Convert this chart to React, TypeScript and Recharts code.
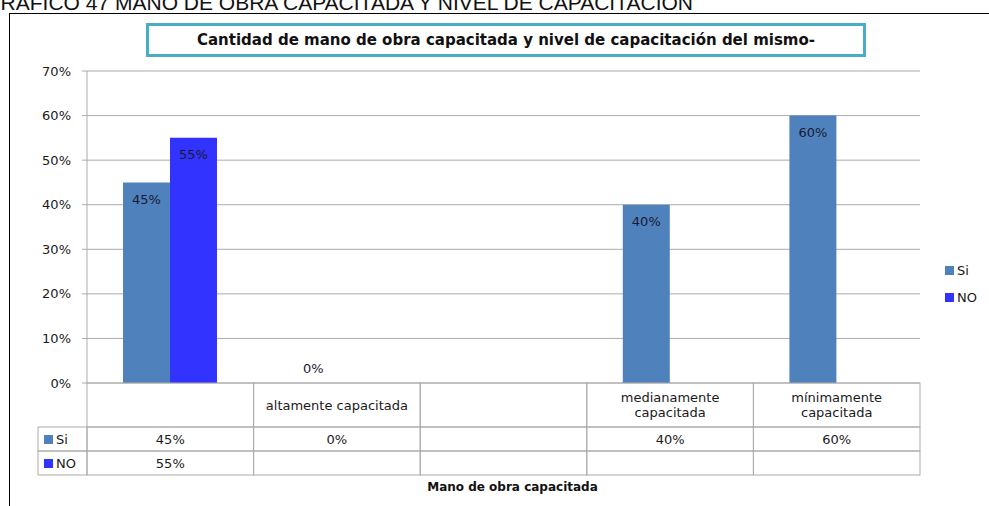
import React from 'react'
import { BarChart, Bar, XAxis, YAxis, CartesianGrid } from 'recharts'

// values (percent)
const categories = ['', 'altamente capacitada', '', 'medianamente capacitada', 'mínimamente capacitada']
const siValues: (number | null)[] = [45, 0, null, 40, 60]
const noValues: (number | null)[] = [55, null, null, null, null]
const yTicks = [0, 10, 20, 30, 40, 50, 60, 70]
const seriesNames = ['Si', 'NO']
const seriesColors = ['#4F81BD', '#3333FF']

const chartTitle = 'Cantidad de mano de obra capacitada y nivel de capacitación del mismo-'
const axisTitle = 'Mano de obra capacitada'
const caption = 'GRÁFICO 47 MANO DE OBRA CAPACITADA Y NIVEL DE CAPACITACION'

const data = categories.map((name, i) => ({ key: i, name, Si: siValues[i], NO: noValues[i] }))
const seriesValues = [siValues, noValues]

const W = 989
const H = 506
const PLOT_LEFT = 87
const PLOT_RIGHT = 920
const CELL_W = (PLOT_RIGHT - PLOT_LEFT) / categories.length
const BAR = 47
const HEAD_H = 44
const ROW_H = 24
const KEY_W = 49
const FONT = '"DejaVu Sans", sans-serif'
const GRID = '#ababab'

const pct = (v: number | null) => (v == null ? '' : `${v}%`)

function wrap(label: string): string[] {
  if (label.length <= 21) return [label]
  const cut = label.lastIndexOf(' ')
  return [label.slice(0, cut), label.slice(cut + 1)]
}

// x axis tick draws the data table column (and zero-height bar labels, which recharts skips)
function TableTick(props: any) {
  const { x, y, payload } = props
  const i = Number(payload.value)
  const left = x - CELL_W / 2
  const lines = wrap(categories[i])
  const lh = 15
  const startY = y + HEAD_H / 2 - ((lines.length - 1) * lh) / 2
  return (
    <g fontFamily={FONT} fontSize={13} fill="#1a1a1a">
      <rect x={left} y={y} width={CELL_W} height={HEAD_H} fill="none" stroke={GRID} />
      {lines.map((ln, k) => (
        <text key={k} x={x} y={startY + k * lh} textAnchor="middle" dominantBaseline="central">{ln}</text>
      ))}
      {seriesValues.map((vals, r) => (
        <g key={r}>
          {vals[i] === 0 && (
            <text x={x - (BAR * seriesValues.length) / 2 + BAR * (r + 0.5)} y={y - 15}
              textAnchor="middle" dominantBaseline="central" fill="#1a1a33">{pct(0)}</text>
          )}
          <rect x={left} y={y + HEAD_H + r * ROW_H} width={CELL_W} height={ROW_H} fill="none" stroke={GRID} />
          <text x={x} y={y + HEAD_H + r * ROW_H + ROW_H / 2} textAnchor="middle" dominantBaseline="central">
            {pct(vals[i])}
          </text>
          {i === 0 && (
            <g>
              <rect x={left - KEY_W} y={y + HEAD_H + r * ROW_H} width={KEY_W} height={ROW_H} fill="none" stroke={GRID} />
              <rect x={left - KEY_W + 6} y={y + HEAD_H + r * ROW_H + 8} width={9} height={9} fill={seriesColors[r]} />
              <text x={left - KEY_W + 18} y={y + HEAD_H + r * ROW_H + ROW_H / 2} dominantBaseline="central">
                {seriesNames[r]}
              </text>
            </g>
          )}
        </g>
      ))}
    </g>
  )
}

function BarLabel(props: any) {
  const { x, y, width, height, value } = props
  if (value == null || value === '' || Number(value) === 0) return null
  return (
    <text x={Number(x) + Number(width) / 2} y={Number(y) + 17} textAnchor="middle" dominantBaseline="central"
      fontFamily={FONT} fontSize={13} fill="#1a1a33">
      {pct(Number(value))}
    </text>
  )
}

export default function App() {
  return (
    <div style={{ position: 'absolute', left: 0, top: 0, width: W, height: H, background: '#fff', overflow: 'hidden' }}>
      <div style={{
        position: 'absolute', right: W - 693, top: -8, whiteSpace: 'nowrap',
        fontFamily: '"Liberation Sans", Arial, sans-serif', fontSize: 21, lineHeight: '21px', color: '#111',
      }}>{caption}</div>
      <div style={{ position: 'absolute', left: 9, top: 13, width: W, height: H, borderLeft: '1.5px solid #000', borderTop: '1.5px solid #000' }} />
      <BarChart width={W} height={H} data={data} barSize={BAR} barGap={0}
        margin={{ top: 71, right: W - PLOT_RIGHT, bottom: 32, left: PLOT_LEFT - 60 }}
        style={{ position: 'absolute', left: 0, top: 0 }}>
        <CartesianGrid vertical={false} stroke={GRID} />
        <XAxis dataKey="key" height={91} tickSize={0} tickMargin={0} axisLine={false} interval={0} tick={<TableTick />} />
        <YAxis width={60} domain={[0, 70]} ticks={yTicks} interval={0} tickFormatter={(v) => `${v}%`}
          stroke={GRID} tickSize={5} tickMargin={11}
          tick={{ fontFamily: FONT, fontSize: 13, fill: '#1a1a1a' }} />
        {seriesNames.map((s, i) => (
          <Bar key={s} dataKey={s} fill={seriesColors[i]} isAnimationActive={false} label={<BarLabel />} />
        ))}
      </BarChart>
      <div style={{
        position: 'absolute', left: 146, top: 23, width: 714, height: 28, border: '3px solid #4BACC6',
        display: 'flex', alignItems: 'center', justifyContent: 'center',
        fontFamily: FONT, fontWeight: 'bold', fontSize: 15, color: '#111', background: '#fff',
      }}>{chartTitle}</div>
      <div style={{
        position: 'absolute', left: 0, width: W, top: 480, textAlign: 'center',
        fontFamily: FONT, fontWeight: 'bold', fontSize: 12, color: '#111', paddingLeft: 18,
      }}>{axisTitle}</div>
      <div style={{ position: 'absolute', left: 945, top: 257, fontFamily: FONT, fontSize: 13, color: '#1a1a1a' }}>
        {seriesNames.map((s, i) => (
          <div key={s} style={{ display: 'flex', alignItems: 'center', height: 27 }}>
            <span style={{ display: 'inline-block', width: 9, height: 9, background: seriesColors[i], marginRight: 3 }} />
            {s}
          </div>
        ))}
      </div>
    </div>
  )
}
